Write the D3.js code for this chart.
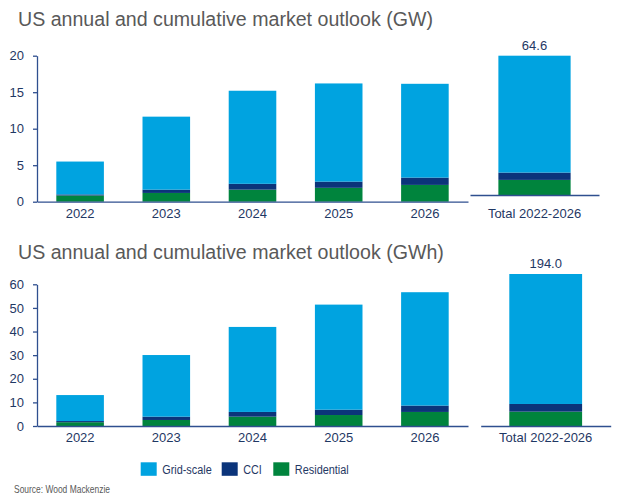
<!DOCTYPE html>
<html lang="en">
<head>
<meta charset="UTF-8">
<title>US annual and cumulative market outlook</title>
<script src="https://d3js.org/d3.v7.min.js"></script>
<style>
  body { margin: 0; background: #fff; font-family: "Liberation Sans", Arial, sans-serif; }
  .title { fill: #595959; font-size: 19.6px; }
  .tick text, .lbl { fill: #1f3864; font-size: 13px; }
  .leg { fill: #1f3864; font-size: 12.5px; }
  .axis path, .axis line { stroke: #2f4f8f; stroke-width: 1.3px; }
  .src { fill: #595959; font-size: 10.5px; }
</style>
</head>
<body>
<svg id="chart" width="624" height="496"></svg>
<script>
// data
const years = ["2022", "2023", "2024", "2025", "2026"];
const totalLabel = ["Total 2022-2026"];
const series = ["Residential", "CCI", "Grid-scale"];
const colors = ["#00843d", "#0b347a", "#00a3e0"];

// GW
const gwResidential = [0.85, 1.2, 1.65, 1.9, 2.3];
const gwCci = [0.15, 0.45, 0.8, 0.85, 1.0];
const gwGrid = [4.5, 10.0, 12.75, 13.45, 12.85];
const gwTotal = [7.0, 3.4, 54.2]; // residential, cci, grid
const gwTicks = [0, 5, 10, 15, 20];

// GWh
const gwhResidential = [1.6, 2.55, 3.95, 4.65, 5.95];
const gwhCci = [0.5, 1.4, 2.0, 2.25, 2.7];
const gwhGrid = [11.0, 26.1, 36.0, 44.5, 48.0];
const gwhTotal = [18.3, 9.8, 165.9];
const gwhTicks = [0, 10, 20, 30, 40, 50, 60];

const svg = d3.select("#chart");

function panel(o) {
  const g = svg.append("g");
  g.append("text").attr("class", "title").attr("x", 18).attr("y", o.titleY).text(o.title);

  // annual bars
  const x = d3.scaleBand().domain(years).range([37, 468]).paddingInner(0.448).paddingOuter(0.224);
  const y = d3.scaleLinear().domain([0, o.yMax]).range([o.base, o.yTop]);
  const rows = years.map((yr, i) => ({ key: yr, Residential: o.res[i], CCI: o.cci[i], "Grid-scale": o.grid[i] }));
  const stacked = d3.stack().keys(series)(rows);

  g.selectAll(".s").data(stacked).enter().append("g")
    .attr("fill", (d, i) => colors[i])
    .selectAll("rect").data(d => d).enter().append("rect")
    .attr("x", d => x(d.data.key))
    .attr("width", x.bandwidth())
    .attr("y", d => y(d[1]))
    .attr("height", d => y(d[0]) - y(d[1]));

  g.append("g").attr("class", "axis").attr("transform", `translate(37,0)`)
    .call(d3.axisLeft(y).tickValues(o.ticks).tickSize(4).tickSizeOuter(0).tickPadding(9))
    .call(a => a.selectAll("text").attr("font-size", 13));
  g.append("g").attr("class", "axis").attr("transform", `translate(0,${o.base})`)
    .call(d3.axisBottom(x).tickSize(0).tickSizeOuter(0).tickPadding(7))
    .call(a => a.selectAll("text").attr("font-size", 13));

  // cumulative bar on its own scale
  const xt = d3.scaleBand().domain(totalLabel).range(o.tRange).paddingInner(0.44).paddingOuter(0.22);
  const tSum = d3.sum(o.total);
  const yt = d3.scaleLinear().domain([0, tSum]).range([o.tBase, o.tTop]);
  const trow = [{ key: totalLabel[0], Residential: o.total[0], CCI: o.total[1], "Grid-scale": o.total[2] }];
  const tst = d3.stack().keys(series)(trow);
  g.append("g").selectAll("rect").data(tst).enter().append("rect")
    .attr("fill", (d, i) => colors[i])
    .attr("x", xt(totalLabel[0]))
    .attr("width", xt.bandwidth())
    .attr("y", d => yt(d[0][1]))
    .attr("height", d => yt(d[0][0]) - yt(d[0][1]));
  g.append("text").attr("class", "lbl")
    .attr("x", xt(totalLabel[0]) + xt.bandwidth() / 2)
    .attr("y", yt(tSum) - 6)
    .attr("text-anchor", "middle")
    .text(o.totalText);
  g.append("g").attr("class", "axis").attr("transform", `translate(0,${o.tBase})`)
    .call(d3.axisBottom(xt).tickSize(0).tickSizeOuter(0).tickPadding(o.base - o.tBase + 7))
    .call(a => a.selectAll("text").attr("font-size", 13));
}

panel({ title: "US annual and cumulative market outlook (GW)", titleY: 25.5,
  yMax: 20, base: 201.7, yTop: 55.7, ticks: gwTicks,
  res: gwResidential, cci: gwCci, grid: gwGrid,
  total: gwTotal, totalText: "64.6", tRange: [470, 599], tBase: 195, tTop: 55.7 });

panel({ title: "US annual and cumulative market outlook (GWh)", titleY: 258.5,
  yMax: 60, base: 426, yTop: 284.3, ticks: gwhTicks,
  res: gwhResidential, cci: gwhCci, grid: gwhGrid,
  total: gwhTotal, totalText: "194.0", tRange: [480.7, 610.7], tBase: 426, tTop: 274 });

// legend (condensed text as in the source)
const legendItems = ["Grid-scale", "CCI", "Residential"];
const legendX = [140.7, 221.7, 273.3];
const legendW = [49.5, 18.5, 54];
const lg = svg.append("g");
legendItems.forEach((name, i) => {
  lg.append("rect").attr("x", legendX[i]).attr("y", 462.3).attr("width", 16).attr("height", 13.5)
    .attr("fill", colors[series.indexOf(name)]);
  lg.append("text").attr("class", "leg").attr("x", legendX[i] + 21.5).attr("y", 474)
    .attr("textLength", legendW[i]).attr("lengthAdjust", "spacingAndGlyphs").text(name);
});

svg.append("text").attr("class", "src").attr("x", 14).attr("y", 493)
  .attr("textLength", 96).attr("lengthAdjust", "spacingAndGlyphs").text("Source: Wood Mackenzie");
</script>
</body>
</html>
